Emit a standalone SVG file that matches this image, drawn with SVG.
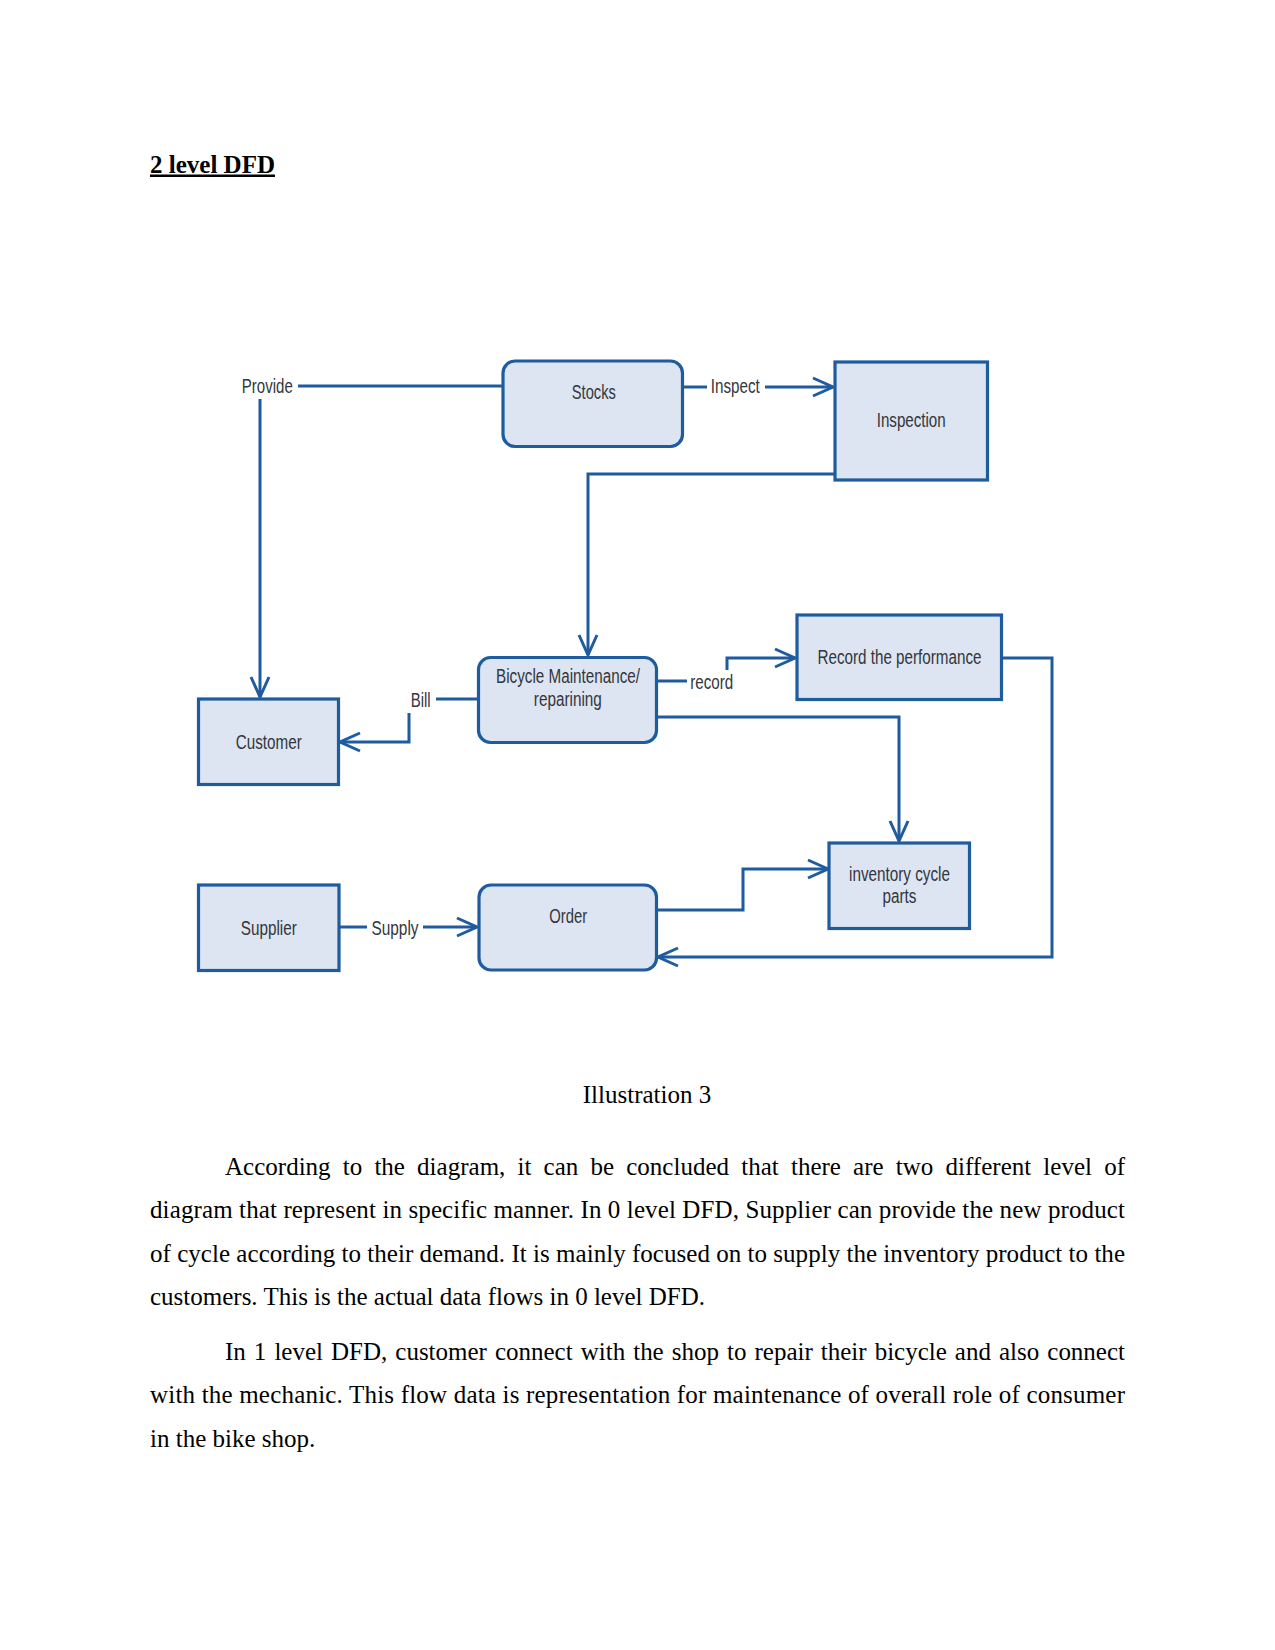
<svg xmlns="http://www.w3.org/2000/svg" width="1275" height="1650" viewBox="0 0 1275 1650">
<style>
.box{fill:#dce5f1;stroke:#1f5b9f;stroke-width:3.2}
.ln{fill:none;stroke:#1f5b9f;stroke-width:3}
.lbl{font-family:"Liberation Sans",Arial,sans-serif;font-size:20px;fill:#33363d;text-anchor:middle}
.body{font-family:"Liberation Serif","Times New Roman",serif;font-size:25px;fill:#000}
</style>
<defs>
<marker id="arr" markerUnits="userSpaceOnUse" markerWidth="24" markerHeight="22" viewBox="0 0 24 22" refX="22" refY="11" orient="auto">
<path d="M2,2 L22,11 L2,20" fill="none" stroke="#1f5b9f" stroke-width="3"/>
</marker>
</defs>
<rect width="1275" height="1650" fill="#fff"/>
<text x="150" y="172.5" class="body" font-weight="bold" text-decoration="underline">2 level DFD</text>

<g id="connectors">
<path class="ln" d="M503,386 H298"/>
<path class="ln" d="M260,399 V697" marker-end="url(#arr)"/>
<path class="ln" d="M682,387 H707"/>
<path class="ln" d="M765,387 H833" marker-end="url(#arr)"/>
<path class="ln" d="M835,474 H588 V655" marker-end="url(#arr)"/>
<path class="ln" d="M478,699 H436"/>
<path class="ln" d="M409,713 V742 H340" marker-end="url(#arr)"/>
<path class="ln" d="M657,681 H687"/>
<path class="ln" d="M727,670 V658 H795" marker-end="url(#arr)"/>
<path class="ln" d="M657,717 H899 V841" marker-end="url(#arr)"/>
<path class="ln" d="M1002,658 H1052 V957 H658" marker-end="url(#arr)"/>
<path class="ln" d="M657,910 H743 V869 H828" marker-end="url(#arr)"/>
<path class="ln" d="M339,927 H367"/>
<path class="ln" d="M423,927 H477" marker-end="url(#arr)"/>
<text class="lbl" x="267.3" y="393.3" textLength="51" lengthAdjust="spacingAndGlyphs">Provide</text>
<text class="lbl" x="735.3" y="393.3" textLength="49" lengthAdjust="spacingAndGlyphs">Inspect</text>
<text class="lbl" x="420.7" y="706.5" textLength="20" lengthAdjust="spacingAndGlyphs">Bill</text>
<text class="lbl" x="711.7" y="689.3" textLength="43" lengthAdjust="spacingAndGlyphs">record</text>
<text class="lbl" x="395" y="935" textLength="47" lengthAdjust="spacingAndGlyphs">Supply</text>
</g>

<g id="stocks">
<rect class="box" x="503" y="361" width="179.5" height="85.5" rx="12"/>
<text class="lbl" x="593.8" y="399" textLength="44" lengthAdjust="spacingAndGlyphs">Stocks</text>
</g>
<g id="inspection">
<rect class="box" x="835" y="362" width="152.5" height="118"/>
<text class="lbl" x="911.2" y="427.3" textLength="69" lengthAdjust="spacingAndGlyphs">Inspection</text>
</g>
<g id="customer">
<rect class="box" x="198.5" y="699" width="140" height="85.5"/>
<text class="lbl" x="268.8" y="749" textLength="66" lengthAdjust="spacingAndGlyphs">Customer</text>
</g>
<g id="bicycle">
<rect class="box" x="478.5" y="657.5" width="178" height="85" rx="12"/>
<text class="lbl" x="568" y="683.3" textLength="144" lengthAdjust="spacingAndGlyphs">Bicycle Maintenance/</text>
<text class="lbl" x="567.8" y="705.5" textLength="68" lengthAdjust="spacingAndGlyphs">reparining</text>
</g>
<g id="record">
<rect class="box" x="797" y="615" width="204.5" height="84.5"/>
<text class="lbl" x="899.5" y="664" textLength="164" lengthAdjust="spacingAndGlyphs">Record the performance</text>
</g>
<g id="inventory">
<rect class="box" x="829" y="843" width="140.5" height="85.5"/>
<text class="lbl" x="899.5" y="881" textLength="101" lengthAdjust="spacingAndGlyphs">inventory cycle</text>
<text class="lbl" x="899.5" y="903.3" textLength="34" lengthAdjust="spacingAndGlyphs">parts</text>
</g>
<g id="supplier">
<rect class="box" x="198.5" y="885" width="140.5" height="85.5"/>
<text class="lbl" x="268.8" y="935" textLength="56" lengthAdjust="spacingAndGlyphs">Supplier</text>
</g>
<g id="order">
<rect class="box" x="479" y="885" width="177.5" height="85" rx="12"/>
<text class="lbl" x="568.3" y="922.7" textLength="38" lengthAdjust="spacingAndGlyphs">Order</text>
</g>

<text class="body" x="647" y="1103" text-anchor="middle">Illustration 3</text>
<text class="body" x="225" y="1175" word-spacing="5.9" textLength="900" lengthAdjust="spacing">According to the diagram, it can be concluded that there are two different level of</text>
<text class="body" x="150" y="1218.3" textLength="975" lengthAdjust="spacing">diagram that represent in specific manner. In 0 level DFD, Supplier can provide the new product</text>
<text class="body" x="150" y="1261.7" textLength="975" lengthAdjust="spacing">of cycle according to their demand. It is mainly focused on to supply the inventory product to the</text>
<text class="body" x="150" y="1305">customers. This is the actual data flows in 0 level DFD.</text>
<text class="body" x="225" y="1360" word-spacing="1.8" textLength="900" lengthAdjust="spacing">In 1 level DFD, customer connect with the shop to repair their bicycle and also connect</text>
<text class="body" x="150" y="1403.3" textLength="975" lengthAdjust="spacing">with the mechanic. This flow data is representation for maintenance of overall role of consumer</text>
<text class="body" x="150" y="1446.7">in the bike shop.</text>
</svg>
